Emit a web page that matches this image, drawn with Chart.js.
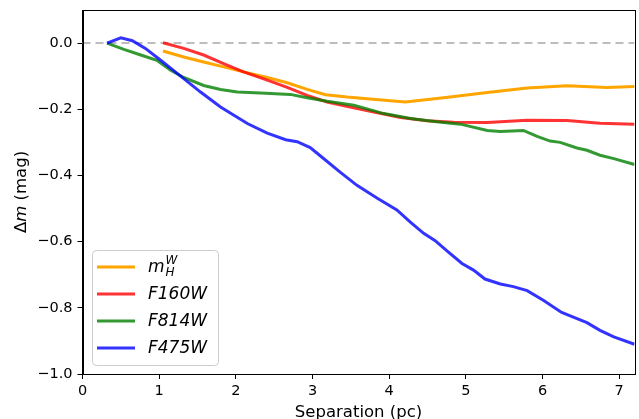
<!DOCTYPE html>
<html lang="en">
<head>
  <meta charset="UTF-8" />
  <title>Delta m vs separation</title>
  <script src="https://cdn.jsdelivr.net/npm/chart.js"></script>
  <style>
    html, body { margin: 0; padding: 0; background: #fff; }
    #wrap { width: 639px; height: 419px; }
  </style>
</head>
<body>
  <div id="wrap"><canvas id="dmChart" width="639" height="419"></canvas></div>
  <script>
    // separation (pc) and delta m (mag)
    const sepMH = [1.05, 1.32, 1.58, 1.84, 2.10, 2.41, 2.67, 2.93, 3.17, 3.45, 3.71, 4.21, 4.71, 5.28, 5.80, 6.32, 6.84, 7.20];
    const dmMH  = [-0.024, -0.042, -0.057, -0.072, -0.087, -0.104, -0.120, -0.140, -0.156, -0.163, -0.168, -0.178, -0.165, -0.149, -0.136, -0.129, -0.134, -0.131];

    const sepF160 = [1.05, 1.32, 1.58, 1.84, 2.10, 2.41, 2.67, 2.93, 3.19, 3.49, 3.80, 4.15, 4.49, 4.84, 5.28, 5.80, 6.32, 6.75, 7.20];
    const dmF160  = [0.001, -0.016, -0.036, -0.062, -0.087, -0.112, -0.134, -0.158, -0.178, -0.193, -0.208, -0.225, -0.235, -0.239, -0.240, -0.233, -0.234, -0.242, -0.245];

    const sepF814 = [0.32, 0.54, 0.76, 0.97, 1.15, 1.32, 1.58, 1.80, 2.02, 2.32, 2.71, 2.93, 3.19, 3.54, 3.93, 4.28, 4.62, 4.93, 5.28, 5.45, 5.75, 5.93, 6.10, 6.23, 6.45, 6.58, 6.75, 6.93, 7.20];
    const dmF814  = [0.0, -0.019, -0.036, -0.052, -0.082, -0.104, -0.128, -0.140, -0.148, -0.151, -0.155, -0.165, -0.176, -0.188, -0.213, -0.228, -0.238, -0.245, -0.264, -0.267, -0.264, -0.282, -0.296, -0.300, -0.317, -0.324, -0.339, -0.349, -0.367];

    const sepF475 = [0.32, 0.50, 0.65, 0.82, 1.02, 1.28, 1.54, 1.80, 2.15, 2.41, 2.65, 2.80, 2.97, 3.14, 3.36, 3.58, 3.84, 4.10, 4.28, 4.45, 4.60, 4.75, 4.95, 5.10, 5.25, 5.45, 5.62, 5.80, 6.01, 6.25, 6.41, 6.58, 6.75, 6.93, 7.20];
    const dmF475  = [0.0, 0.016, 0.007, -0.016, -0.052, -0.100, -0.148, -0.193, -0.243, -0.272, -0.292, -0.298, -0.316, -0.348, -0.390, -0.430, -0.468, -0.504, -0.542, -0.575, -0.597, -0.627, -0.666, -0.686, -0.713, -0.728, -0.736, -0.748, -0.777, -0.814, -0.829, -0.845, -0.868, -0.888, -0.910];

    const refSep = [0, 7.2];
    const refDm = [0, 0];

    const xTicks = [0, 1, 2, 3, 4, 5, 6, 7];
    const yTicks = [-1.0, -0.8, -0.6, -0.4, -0.2, 0.0];

    const pts = (xs, ys) => xs.map((x, i) => ({ x: x, y: ys[i] }));

    const FONT = "'DejaVu Sans', sans-serif";

    // legend drawn inside the axes, lower left (matplotlib style)
    const innerLegend = {
      id: 'innerLegend',
      afterDraw(chart) {
        const ctx = chart.ctx;
        const x0 = 92, y0 = 250, w = 126, h = 115;
        ctx.save();
        ctx.beginPath();
        ctx.roundRect(x0 + 0.5, y0 + 0.5, w, h, 4);
        ctx.fillStyle = 'rgba(255,255,255,0.8)';
        ctx.fill();
        ctx.strokeStyle = '#cccccc';
        ctx.lineWidth = 1;
        ctx.stroke();

        const items = chart.data.datasets.filter(d => d.label);
        items.forEach((ds, i) => {
          const y = 267 + i * 27;
          ctx.beginPath();
          ctx.moveTo(97, y);
          ctx.lineTo(135, y);
          ctx.strokeStyle = ds.borderColor;
          ctx.lineWidth = 3;
          ctx.stroke();

          ctx.fillStyle = '#000';
          ctx.textBaseline = 'middle';
          ctx.textAlign = 'left';
          if (ds.label === 'mHW') {
            ctx.font = 'italic 17px ' + FONT;
            ctx.fillText('m', 148, y + 1);
            const mw = ctx.measureText('m').width;
            ctx.font = 'italic 12px ' + FONT;
            ctx.fillText('W', 148 + mw + 1, y - 6);
            ctx.fillText('H', 148 + mw + 1, y + 6);
          } else {
            ctx.font = 'italic 17px ' + FONT;
            ctx.fillText(ds.label, 148, y + 1);
          }
        });
        ctx.restore();
      }
    };

    // top/right spines and the two axis titles
    const frame = {
      id: 'frame',
      afterDraw(chart) {
        const a = chart.chartArea;
        const ctx = chart.ctx;
        ctx.save();
        ctx.strokeStyle = '#000';
        ctx.lineWidth = 1;
        ctx.strokeRect(Math.round(a.left) + 0.5, Math.round(a.top) + 0.5,
          Math.round(a.right - a.left), Math.round(a.bottom - a.top));

        ctx.fillStyle = '#000';
        ctx.textBaseline = 'alphabetic';
        ctx.font = '16.5px ' + FONT;
        ctx.textAlign = 'center';
        ctx.fillText('Separation (pc)', (a.left + a.right) / 2, 417);

        // y title: upright Delta, italic m
        ctx.translate(26, (a.top + a.bottom) / 2);
        ctx.rotate(-Math.PI / 2);
        const parts = [['\u0394', ''], ['m', 'italic '], [' (mag)', '']];
        let total = 0;
        parts.forEach(p => { ctx.font = p[1] + '16.5px ' + FONT; total += ctx.measureText(p[0]).width; });
        let x = -total / 2;
        ctx.textAlign = 'left';
        parts.forEach(p => {
          ctx.font = p[1] + '16.5px ' + FONT;
          ctx.fillText(p[0], x, 0);
          x += ctx.measureText(p[0]).width;
        });
        ctx.restore();
      }
    };

    const fmt = v => (Math.abs(v) < 1e-9 ? '0.0' : v.toFixed(1).replace('-', '\u2212'));

    new Chart(document.getElementById('dmChart'), {
      type: 'line',
      data: {
        datasets: [
          {
            label: '', data: pts(refSep, refDm),
            borderColor: '#bdbdbd', borderWidth: 2, borderDash: [8, 5],
            pointRadius: 0, order: 5
          },
          {
            label: 'mHW', data: pts(sepMH, dmMH),
            borderColor: '#ffa500', borderWidth: 3, pointRadius: 0, order: 4
          },
          {
            label: 'F160W', data: pts(sepF160, dmF160),
            borderColor: 'rgba(255,0,0,0.8)', borderWidth: 3, pointRadius: 0, order: 3
          },
          {
            label: 'F814W', data: pts(sepF814, dmF814),
            borderColor: 'rgba(0,128,0,0.8)', borderWidth: 3, pointRadius: 0, order: 2
          },
          {
            label: 'F475W', data: pts(sepF475, dmF475),
            borderColor: 'rgba(0,0,255,0.8)', borderWidth: 3, pointRadius: 0, order: 1
          }
        ]
      },
      options: {
        responsive: false,
        animation: false,
        layout: { padding: { left: 0, right: 4.5, top: 10, bottom: 0 } },
        plugins: {
          legend: { display: false },
          tooltip: { enabled: false }
        },
        scales: {
          x: {
            type: 'linear',
            min: 0, max: 7.2,
            afterFit: s => { s.height = 45; s.paddingLeft = 0; s.paddingRight = 0; },
            afterBuildTicks: s => { s.ticks = xTicks.map(v => ({ value: v })); },
            grid: { drawOnChartArea: false, drawTicks: true, tickLength: 5, color: '#000', tickWidth: 1 },
            border: { display: true, color: '#000', width: 1 },
            ticks: {
              color: '#000', font: { family: FONT, size: 14.5 }, padding: 4,
              maxRotation: 0, callback: v => String(v)
            }
          },
          y: {
            type: 'linear',
            min: -1.0, max: 0.1,
            afterFit: s => { s.width = 82.5; s.paddingTop = 0; s.paddingBottom = 0; },
            afterBuildTicks: s => { s.ticks = yTicks.map(v => ({ value: v })); },
            grid: { drawOnChartArea: false, drawTicks: true, tickLength: 5, color: '#000', tickWidth: 1 },
            border: { display: true, color: '#000', width: 1 },
            ticks: {
              color: '#000', font: { family: FONT, size: 14.5 }, padding: 5,
              callback: v => fmt(v)
            }
          }
        }
      },
      plugins: [innerLegend, frame]
    });
  </script>
</body>
</html>
